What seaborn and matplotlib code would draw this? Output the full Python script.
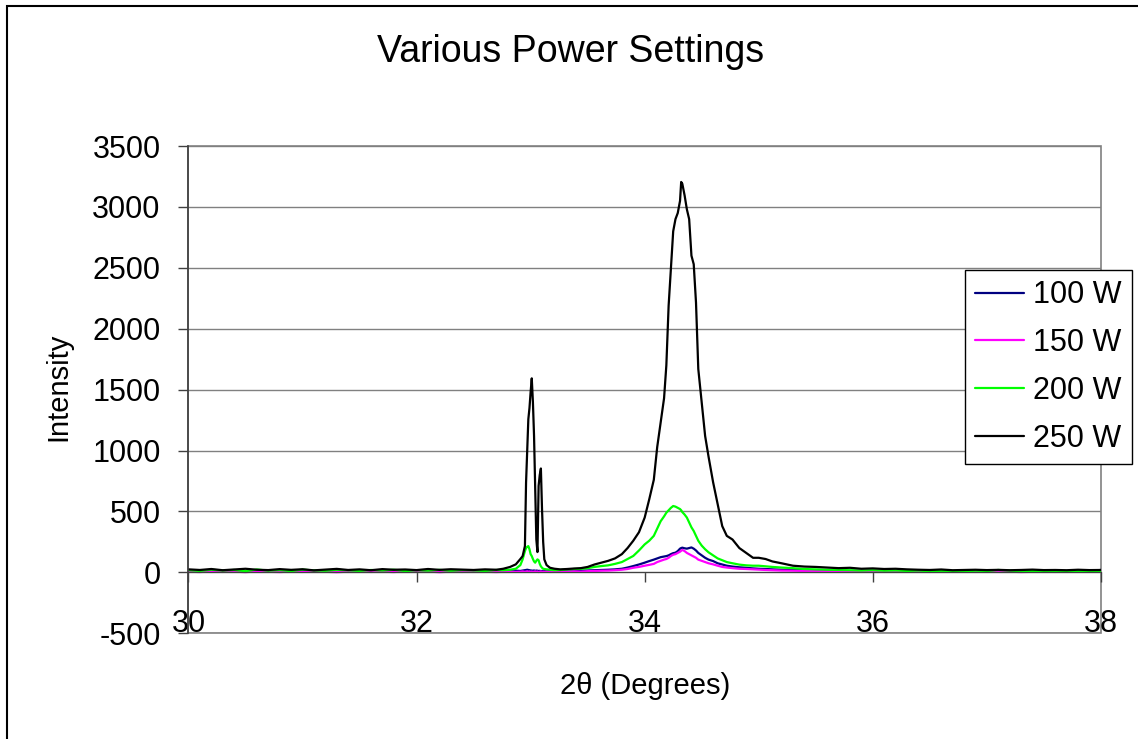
import numpy as np
import pandas as pd
import matplotlib.pyplot as plt
import seaborn as sns
from matplotlib.patches import Rectangle

sns.set_style("white")
plt.rcParams["font.family"] = ["Liberation Sans", "DejaVu Sans"]
plt.rcParams["axes.unicode_minus"] = False
plt.rcParams["text.color"] = "black"
plt.rcParams["xtick.color"] = "black"
plt.rcParams["ytick.color"] = "black"

# 2-theta positions (denser around the peaks)
x_deg = [30.0, 30.1, 30.2, 30.3, 30.4, 30.5, 30.6, 30.7, 30.8, 30.9,
         31.0, 31.1, 31.2, 31.3, 31.4, 31.5, 31.6, 31.7, 31.8, 31.9,
         32.0, 32.1, 32.2, 32.3, 32.4, 32.5, 32.6, 32.7,
         32.76, 32.82, 32.87, 32.91, 32.93, 32.95, 32.96, 32.97, 32.98, 32.99,
         33.0, 33.01, 33.02, 33.03, 33.04, 33.05, 33.06, 33.07, 33.08, 33.09,
         33.1, 33.11, 33.12, 33.14, 33.17, 33.21, 33.26, 33.32, 33.38, 33.44, 33.5,
         33.56, 33.62, 33.68, 33.74, 33.8, 33.85, 33.9, 33.95, 34.0, 34.04,
         34.08, 34.11, 34.14, 34.17, 34.19, 34.21, 34.23, 34.25, 34.27, 34.29,
         34.31, 34.32, 34.33, 34.35, 34.37, 34.39, 34.41, 34.43, 34.45, 34.47,
         34.5, 34.53, 34.56, 34.6, 34.64, 34.68, 34.72, 34.77, 34.83, 34.89,
         34.95, 35.0, 35.06, 35.12, 35.2, 35.3, 35.4, 35.5,
         35.6, 35.7, 35.8, 35.9, 36.0, 36.1, 36.2, 36.3, 36.4, 36.5,
         36.6, 36.7, 36.8, 36.9, 37.0, 37.1, 37.2, 37.3, 37.4, 37.5,
         37.6, 37.7, 37.8, 37.9, 38.0]

i_100w = [10, 12, 8, 14, 9, 11, 13, 7, 12, 10, 9, 14, 11, 8, 13, 10, 12, 9, 11, 14,
          8, 12, 10, 13, 9, 11, 12, 10,
          12, 10, 14, 12, 15, 18, 20, 22, 20, 18, 16, 15, 14, 16, 13, 15, 14, 12, 13, 11,
          12, 10, 12, 11, 13, 10, 12, 14, 12, 15, 16,
          18, 20, 22, 25, 30, 40, 52, 65, 80, 93, 105, 115, 125, 130, 134, 140, 150, 158, 162, 175,
          195, 200, 203, 198, 195, 200, 205, 195, 180, 160, 140, 120, 105, 93, 75, 65, 55, 48, 42, 38,
          33, 30, 28, 25, 22, 20, 18, 16,
          15, 14, 12, 13, 11, 12, 10, 12, 11, 10, 12, 9, 11, 10, 12, 10, 9, 11, 10, 12,
          10, 11, 9, 12, 20]

i_150w = [6, 3, 8, 4, 7, 2, 9, 5, 3, 7, 4, 8, 5, 2, 6, 9, 4, 6, 3, 8,
          5, 7, 2, 6, 4, 8, 5, 3,
          5, 7, 4, 6, 8, 5, 7, 9, 6, 8, 5, 7, 4, 6, 8, 5, 7, 3, 6, 8,
          4, 6, 5, 7, 4, 8, 5, 7, 9, 6, 10,
          12, 14, 15, 18, 22, 28, 38, 45, 55, 62, 70, 85, 95, 105, 110, 120, 135, 145, 150, 160,
          170, 178, 185, 175, 160, 150, 140, 130, 120, 105, 95, 85, 75, 66, 55, 45, 40, 35, 30, 28,
          25, 22, 20, 18, 15, 14, 12, 10,
          9, 8, 7, 9, 6, 8, 5, 7, 6, 4, 7, 5, 6, 4, 7, 5, 6, 3, 5, 6,
          4, 7, 5, 6, 4]

i_200w = [18, 12, 22, 15, 20, 10, 24, 14, 19, 11, 23, 16, 13, 21, 17, 12, 20, 15, 22, 11,
          18, 14, 21, 13, 19, 16, 12, 20,
          18, 22, 30, 60, 107, 175, 200, 210, 216, 190, 150, 134, 110, 90, 80, 95, 107, 100, 70, 50,
          38, 30, 28, 25, 22, 18, 20, 24, 28, 30, 35,
          45, 52, 58, 70, 85, 110, 135, 180, 230, 260, 300, 360, 420, 460, 490, 510, 530, 545, 540, 530,
          520, 510, 495, 475, 450, 410, 370, 340, 300, 260, 220, 190, 165, 140, 115, 100, 85, 75, 64, 58,
          55, 55, 50, 45, 40, 35, 28, 25,
          22, 20, 18, 15, 18, 14, 16, 12, 15, 10, 13, 12, 9, 14, 11, 20, 15, 10, 12, 9,
          11, 8, 10, 12, 9]

i_250w = [25, 20, 28, 18, 24, 30, 22, 19, 27, 21, 26, 17, 23, 29, 20, 25, 18, 27, 22, 24,
          19, 28, 21, 26, 23, 20, 25, 22,
          30, 45, 66, 110, 134, 216, 738, 1000, 1258, 1350, 1480, 1593, 1400, 1121, 700, 271, 167, 710, 800, 853,
          518, 250, 107, 60, 38, 30, 25, 28, 32, 35, 45,
          65, 80, 95, 115, 150, 200, 260, 330, 450, 600, 760, 1030, 1230, 1430, 1700, 2190, 2490, 2800, 2900, 2950,
          3050, 3205, 3190, 3095, 2980, 2900, 2600, 2530, 2215, 1670, 1395, 1120, 950, 740, 560, 380, 300, 270, 200, 160,
          120, 120, 110, 90, 75, 55, 48, 45,
          40, 35, 38, 30, 33, 28, 30, 25, 22, 20, 24, 18, 20, 22, 19, 21, 18, 20, 23, 19,
          20, 18, 22, 19, 20]

powers = ["100 W", "150 W", "200 W", "250 W"]
colors = ["#000080", "#FF00FF", "#00FF00", "#000000"]

df = pd.DataFrame({
    "two_theta": x_deg * 4,
    "intensity": i_100w + i_150w + i_200w + i_250w,
    "power": [p for p in powers for _ in x_deg],
})

fig = plt.figure(figsize=(11.38, 7.39), dpi=100)
ax = fig.add_axes([0.1656, 0.1430, 0.8018, 0.6594])

sns.lineplot(data=df, x="two_theta", y="intensity", hue="power", hue_order=powers,
             palette=dict(zip(powers, colors)), linewidth=1.6, ax=ax)

ax.set_xlim(30, 38)
ax.set_ylim(-500, 3500)
ax.set_xticks([30, 32, 34, 36, 38])
ax.set_yticks(range(-500, 3501, 500))
ax.yaxis.grid(True, color="#808080", linewidth=1)
ax.set_axisbelow(True)
ax.set_xlabel("")
ax.set_ylabel("")

for s in ["top", "right"]:
    ax.spines[s].set_visible(False)
ax.spines["bottom"].set_position(("data", 0))
ax.spines["bottom"].set_color("#404040")
ax.spines["left"].set_color("#404040")
ax.spines["left"].set_linewidth(1.2)
ax.add_patch(Rectangle((0, 0), 1, 1, transform=ax.transAxes, fill=False,
                       edgecolor="#808080", linewidth=1.2, clip_on=False, zorder=0))

ax.tick_params(axis="x", direction="out", length=7, width=1, color="#404040",
               labelcolor="black", labelsize=22, pad=19, bottom=True)
ax.tick_params(axis="y", direction="out", length=7, width=1, color="#404040",
               labelcolor="black", labelsize=22, pad=13, left=True)

handles, labels = ax.get_legend_handles_labels()
ax.get_legend().remove()
fig.legend(handles, labels, loc="upper left", bbox_to_anchor=(965 / 1138, 1 - 270 / 739),
           bbox_transform=fig.transFigure, fontsize=22, frameon=True, fancybox=False,
           edgecolor="black", framealpha=1, handlelength=1.6, handletextpad=0.3,
           labelspacing=0.58, borderpad=0.34, borderaxespad=0)

fig.text(571 / 1138, 1 - 52 / 739, "Various Power Settings", ha="center", va="center", fontsize=27)
fig.text(645 / 1138, 1 - 686 / 739, "2θ (Degrees)", ha="center", va="center", fontsize=21)
fig.text(58 / 1138, 1 - 387 / 739, "Intensity", ha="center", va="center", rotation=90, fontsize=21)

fig.patches.append(Rectangle((7 / 1138, -0.05), 1.2, 1 - 6 / 739 + 0.05, transform=fig.transFigure,
                             fill=False, edgecolor="black", linewidth=1.5))

fig.savefig("out.png", dpi=100)
